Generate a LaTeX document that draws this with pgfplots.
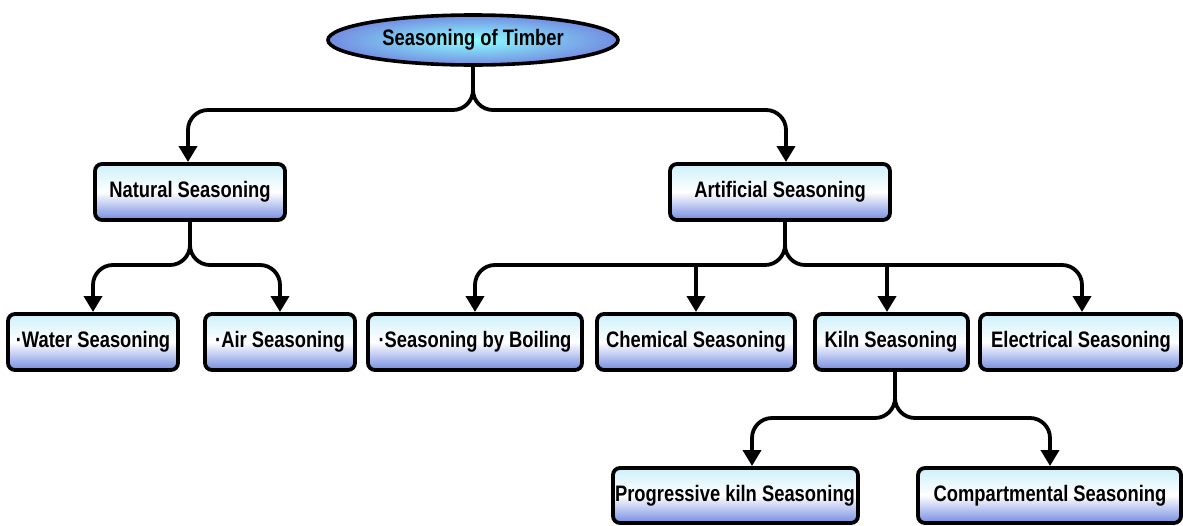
\documentclass[border=0pt]{standalone}
\usepackage{pgfplots}
\pgfplotsset{compat=1.18}
\usepackage{fontspec}
\setmainfont{Liberation Sans}
\newfontfamily\boxfont[FakeStretch=0.82]{Liberation Sans}
\usetikzlibrary{arrows.meta,shapes.geometric}
\definecolor{boxbot}{RGB}{115,140,225}
\definecolor{boxtop}{RGB}{205,240,250}
\tikzset{
  box/.style={rounded corners=3.5pt, line width=1.9pt, draw=black,
     top color=boxtop, bottom color=boxbot, middle color=white},
  lbl/.style={font=\boxfont\fontsize{11.2}{13}\selectfont\bfseries, inner sep=0pt},
  conn/.style={line width=1.9pt, rounded corners=10pt,
     -{Triangle[length=8pt,width=9pt]}},
}
\begin{document}
\begin{tikzpicture}
\begin{axis}[
  scale only axis, width=591.5pt, height=262.5pt,
  xmin=0, xmax=1183, ymin=0, ymax=525, y dir=reverse,
  axis lines=none, clip=false,
]
\addplot[draw=none] coordinates {(0,0) (1183,525)};
% connectors
\draw[conn] (axis cs:473,64) -- (axis cs:473,110) -- (axis cs:188,110) -- (axis cs:188,162);
\draw[conn] (axis cs:473,64) -- (axis cs:473,110) -- (axis cs:786,110) -- (axis cs:786,162);
\draw[conn] (axis cs:190,220) -- (axis cs:190,265) -- (axis cs:93,265) -- (axis cs:93,312);
\draw[conn] (axis cs:190,220) -- (axis cs:190,265) -- (axis cs:280,265) -- (axis cs:280,312);
\draw[conn] (axis cs:785,220) -- (axis cs:785,265) -- (axis cs:475,265) -- (axis cs:475,312);
\draw[conn] (axis cs:785,220) -- (axis cs:785,265) -- (axis cs:1082,265) -- (axis cs:1082,312);
\draw[line width=1.9pt, -{Triangle[length=8pt,width=9pt]}] (axis cs:696,265) -- (axis cs:696,312);
\draw[line width=1.9pt, -{Triangle[length=8pt,width=9pt]}] (axis cs:887,265) -- (axis cs:887,312);
\draw[conn] (axis cs:895,372) -- (axis cs:895,418) -- (axis cs:752,418) -- (axis cs:752,466);
\draw[conn] (axis cs:895,372) -- (axis cs:895,418) -- (axis cs:1050,418) -- (axis cs:1050,466);
% title ellipse
\node[ellipse, draw=black, line width=1.8pt, minimum width=145pt, minimum height=25pt,
  inner color=white!55!cyan, outer color=boxbot, lbl] at (axis cs:473,40) {Seasoning of Timber};
% boxes
\draw[box] (axis cs:95,164) rectangle (axis cs:285,220);
\node[lbl] at (axis cs:190,192) {Natural Seasoning};
\draw[box] (axis cs:670,164) rectangle (axis cs:890,220);
\node[lbl] at (axis cs:780,192) {Artificial Seasoning};
\draw[box] (axis cs:8,314) rectangle (axis cs:178,370);
\node[lbl] at (axis cs:93,342) {·Water Seasoning};
\draw[box] (axis cs:205,314) rectangle (axis cs:355,370);
\node[lbl] at (axis cs:280,342) {·Air Seasoning};
\draw[box] (axis cs:368,314) rectangle (axis cs:582,370);
\node[lbl] at (axis cs:475,342) {·Seasoning by Boiling};
\draw[box] (axis cs:597,314) rectangle (axis cs:795,370);
\node[lbl] at (axis cs:696,342) {Chemical Seasoning};
\draw[box] (axis cs:815,314) rectangle (axis cs:968,370);
\node[lbl] at (axis cs:891,342) {Kiln Seasoning};
\draw[box] (axis cs:980,314) rectangle (axis cs:1181,370);
\node[lbl] at (axis cs:1081,342) {Electrical Seasoning};
\draw[box] (axis cs:613,468) rectangle (axis cs:858,523);
\node[lbl] at (axis cs:735,496) {Progressive kiln Seasoning};
\draw[box] (axis cs:918,468) rectangle (axis cs:1181,523);
\node[lbl] at (axis cs:1050,496) {Compartmental Seasoning};
\end{axis}
\end{tikzpicture}
\end{document}
